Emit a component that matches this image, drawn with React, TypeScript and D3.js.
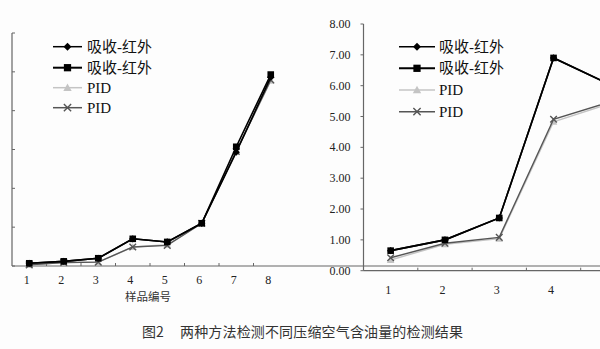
import React from "react";
import * as d3 from "d3";

const categories = ["1", "2", "3", "4", "5", "6", "7", "8"];
const legendLabels = ["吸收-红外", "吸收-红外", "PID", "PID"];

// Left chart (y tick labels cropped in the reference)
const leftYTicks = [0, 1, 2, 3, 4, 5, 6];
const leftDiamond = [0.07, 0.12, 0.2, 0.7, 0.62, 1.1, 2.93, 4.86];
const leftSquare = [0.07, 0.12, 0.2, 0.7, 0.62, 1.1, 3.07, 4.93];
const leftTriangle = [0.03, 0.09, 0.1, 0.49, 0.55, 1.1, 2.97, 4.77];
const leftCross = [0.03, 0.09, 0.1, 0.49, 0.53, 1.1, 2.95, 4.79];

// Right chart (cropped after category 4)
const rightYTicks = [0, 1, 2, 3, 4, 5, 6, 7, 8];
const rightDiamond = [0.65, 1.0, 1.71, 6.9, 6.07];
const rightSquare = [0.65, 1.0, 1.71, 6.9, 6.07];
const rightTriangle = [0.35, 0.86, 1.04, 4.83, 5.4];
const rightCross = [0.42, 0.89, 1.08, 4.91, 5.45];

const xTitle = "样品编号";
const captionNo = "图2";
const captionText = "两种方法检测不同压缩空气含油量的检测结果";

const SERIF = "'Liberation Serif', 'Noto Sans CJK SC', serif";
const SANS = "'Noto Sans CJK SC', sans-serif";
const W = 600;

type Style = { color: string; marker: string; width: number };
const styles: Style[] = [
  { color: "#000", marker: "diamond", width: 1.6 },
  { color: "#000", marker: "square", width: 1.6 },
  { color: "#c4c4c4", marker: "triangle", width: 1.5 },
  { color: "#555", marker: "cross", width: 1.4 },
];

function Marker({ x, y, kind, color, s = 1 }: { x: number; y: number; kind: string; color: string; s?: number }) {
  if (kind === "diamond") {
    const r = 3.6 * s;
    return <path d={`M${x},${y - r}L${x + r},${y}L${x},${y + r}L${x - r},${y}Z`} fill={color} />;
  }
  if (kind === "square") {
    const r = 3.3 * s;
    return <rect x={x - r} y={y - r} width={2 * r} height={2 * r} fill={color} />;
  }
  if (kind === "triangle") {
    const r = 3.8 * s;
    return <path d={`M${x},${y - r}L${x + r},${y + r * 0.8}L${x - r},${y + r * 0.8}Z`} fill={color} />;
  }
  const r = 3.3 * s;
  return (
    <path
      d={`M${x - r},${y - r}L${x + r},${y + r}M${x - r},${y + r}L${x + r},${y - r}`}
      stroke={color}
      strokeWidth={1.4}
      fill="none"
    />
  );
}

function Panel({
  x0,
  x1,
  yTop,
  yBottom,
  yMax,
  yTicks,
  series,
  showYLabels,
  tickInward,
  labelDy,
}: {
  x0: number;
  x1: number;
  yTop: number;
  yBottom: number;
  yMax: number;
  yTicks: number[];
  series: number[][];
  showYLabels: boolean;
  tickInward: boolean;
  labelDy: number;
}) {
  const x = d3.scaleBand<string>().domain(categories).range([x0, x1]);
  const y = d3.scaleLinear().domain([0, yMax]).range([yBottom, yTop]);
  const cx = (i: number) => (x(categories[i]) as number) + x.bandwidth() / 2;
  const line = d3
    .line<number>()
    .x((_, i) => cx(i))
    .y((d) => y(d));
  const order = [2, 3, 0, 1];
  return (
    <g>
      <line x1={x0} x2={x0} y1={yTop} y2={yBottom} stroke="#666" strokeWidth={1.2} />
      <line x1={x0} x2={Math.min(Math.max(x1, W), W)} y1={yBottom} y2={yBottom} stroke="#666" strokeWidth={1.2} />
      {yTicks.map((t) => (
        <g key={t}>
          <line
            x1={x0}
            x2={tickInward ? x0 + 3 : x0 - 3}
            y1={y(t)}
            y2={y(t)}
            stroke="#666"
            strokeWidth={1}
          />
          {showYLabels && (
            <text x={x0 - 13} y={y(t) + 4} textAnchor="end" fontFamily={SERIF} fontSize={12} fill="#222">
              {t.toFixed(2)}
            </text>
          )}
        </g>
      ))}
      {categories.map((c, i) =>
        i > 0 && (x(c) as number) < W ? (
          <line
            key={"t" + c}
            x1={x(c) as number}
            x2={x(c) as number}
            y1={yBottom}
            y2={yBottom - 3}
            stroke="#666"
            strokeWidth={1}
          />
        ) : null
      )}
      {categories.map((c, i) =>
        cx(i) < W - 4 ? (
          <text
            key={"l" + c}
            x={cx(i) - 2.5}
            y={yBottom + labelDy}
            textAnchor="middle"
            fontFamily={SERIF}
            fontSize={12}
            fill="#222"
          >
            {c}
          </text>
        ) : null
      )}
      {order.map((si) => (
        <g key={si}>
          <path d={line(series[si]) || ""} fill="none" stroke={styles[si].color} strokeWidth={styles[si].width} />
          {series[si].map((v, i) => (
            <Marker key={i} x={cx(i)} y={y(v)} kind={styles[si].marker} color={styles[si].color} />
          ))}
        </g>
      ))}
    </g>
  );
}

function Legend({ lx0, lx1, tx, rows }: { lx0: number; lx1: number; tx: number; rows: number[] }) {
  return (
    <g>
      {legendLabels.map((lab, i) => (
        <g key={i}>
          <line x1={lx0} x2={lx1} y1={rows[i]} y2={rows[i]} stroke={styles[i].color} strokeWidth={i === 1 ? 2 : 1.5} />
          <Marker x={(lx0 + lx1) / 2} y={rows[i]} kind={styles[i].marker} color={styles[i].color} s={1.1} />
          <text x={tx} y={rows[i] + 5} fontFamily={SERIF} fontSize={15} fill="#111">
            {lab}
          </text>
        </g>
      ))}
    </g>
  );
}

export default function App() {
  return (
    <svg
      width={600}
      height={349}
      style={{ position: "absolute", left: 0, top: 0, background: "#fff" }}
    >
      <rect x={0} y={0} width={600} height={349} fill="#fdfdfd" />
      <Panel
        x0={12}
        x1={288}
        yTop={33}
        yBottom={266}
        yMax={6}
        yTicks={leftYTicks}
        series={[leftDiamond, leftSquare, leftTriangle, leftCross]}
        showYLabels={false}
        tickInward={true}
        labelDy={18}
      />
      <text x={148} y={301} textAnchor="middle" fontFamily={SANS} fontSize={11.5} fill="#333">
        {xTitle}
      </text>
      <Legend lx0={53} lx1={82} tx={87} rows={[46.7, 67.7, 87.7, 107.7]} />
      <Panel
        x0={363.5}
        x1={363.5 + 54.3 * 8}
        yTop={24}
        yBottom={270.7}
        yMax={8}
        yTicks={rightYTicks}
        series={[rightDiamond, rightSquare, rightTriangle, rightCross]}
        showYLabels={true}
        tickInward={false}
        labelDy={23}
      />
      <Legend lx0={399} lx1={435} tx={439} rows={[46.7, 68.3, 90, 111.7]} />
      <text x={142} y={337} fontFamily={SANS} fontSize={14} fill="#333">
        {captionNo}
      </text>
      <text x={180} y={337} fontFamily={SANS} fontSize={14} fill="#333" textLength={283}>
        {captionText}
      </text>
    </svg>
  );
}
